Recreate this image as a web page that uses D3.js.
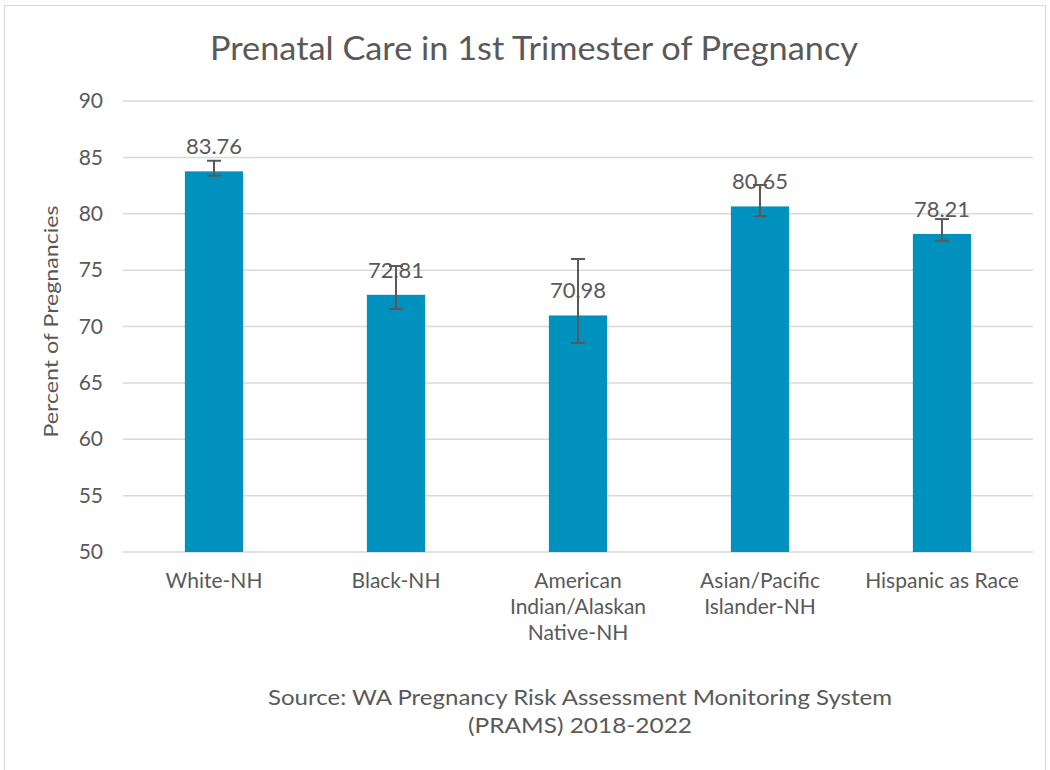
<!DOCTYPE html>
<html>
<head>
<meta charset="utf-8">
<script src="https://cdn.jsdelivr.net/npm/d3@7"></script>
<style>
  body { margin: 0; background: #fff; }
  svg text { font-family: "Lato", sans-serif; fill: #595959; }
</style>
</head>
<body>
<svg id="chart" width="1050" height="770"></svg>
<script>
// Prenatal care in 1st trimester, by race/ethnicity (WA PRAMS 2018-2022)
const categories = [
  ["White-NH"],
  ["Black-NH"],
  ["American", "Indian/Alaskan", "Native-NH"],
  ["Asian/Pacific", "Islander-NH"],
  ["Hispanic as Race"]
];
const values = [83.76, 72.81, 70.98, 80.65, 78.21];
const ciLower = [83.38, 71.55, 68.54, 79.80, 77.61];
const ciUpper = [84.70, 75.37, 75.99, 82.55, 79.53];
const yTicks = [50, 55, 60, 65, 70, 75, 80, 85, 90];

const svg = d3.select("#chart");
const W = 1050, H = 770;
const plot = { left: 123, right: 1033, top: 101, bottom: 552 };

// outer frame (runs past the bottom edge)
svg.append("rect")
  .attr("x", 4.5).attr("y", 5.5)
  .attr("width", W - 9).attr("height", H + 10)
  .attr("fill", "#fff").attr("stroke", "#d9d9d9").attr("stroke-width", 1.2);

const x = d3.scaleBand()
  .domain(d3.range(values.length))
  .range([plot.left, plot.right])
  .paddingInner(0.68).paddingOuter(0.34);

const y = d3.scaleLinear().domain([50, 90]).range([plot.bottom, plot.top]);

// gridlines
svg.append("g").selectAll("line").data(yTicks).join("line")
  .attr("x1", plot.left).attr("x2", plot.right)
  .attr("y1", d => y(d)).attr("y2", d => y(d))
  .attr("stroke", "#d9d9d9").attr("stroke-width", 1.5);

// y tick labels
const yAxis = svg.append("g")
  .attr("transform", `translate(${plot.left},0)`)
  .call(d3.axisLeft(y).tickValues(yTicks).tickSize(0).tickPadding(20));
yAxis.select(".domain").remove();
yAxis.selectAll("text")
  .style("font-family", "Lato, sans-serif")
  .style("font-size", "21px")
  .attr("fill", "#595959");

// y axis title
svg.append("text")
  .attr("transform", `translate(58,${(plot.top + plot.bottom) / 2 - 5}) rotate(-90)`)
  .attr("text-anchor", "middle")
  .style("font-size", "20px")
  .attr("textLength", 232).attr("lengthAdjust", "spacingAndGlyphs")
  .text("Percent of Pregnancies");

// bars
svg.append("g").selectAll("rect").data(values).join("rect")
  .attr("x", (d, i) => x(i))
  .attr("y", d => y(d))
  .attr("width", x.bandwidth())
  .attr("height", d => y(50) - y(d))
  .attr("fill", "#0091be");

// value labels
svg.append("g").selectAll("text").data(values).join("text")
  .attr("x", (d, i) => x(i) + x.bandwidth() / 2)
  .attr("y", d => y(d) - 17)
  .attr("text-anchor", "middle")
  .style("font-size", "22px")
  .attr("fill", "#404040")
  .text(d => d.toFixed(2));

// error bars
const eb = svg.append("g").attr("stroke", "#595959").attr("stroke-width", 2);
values.forEach((v, i) => {
  const cx = x(i) + x.bandwidth() / 2;
  eb.append("line").attr("x1", cx).attr("x2", cx).attr("y1", y(ciLower[i])).attr("y2", y(ciUpper[i]));
  [ciLower[i], ciUpper[i]].forEach(b => {
    eb.append("line").attr("x1", cx - 7).attr("x2", cx + 7).attr("y1", y(b)).attr("y2", y(b));
  });
});

// category labels
const cat = svg.append("g");
categories.forEach((lines, i) => {
  const t = cat.append("text")
    .attr("x", x(i) + x.bandwidth() / 2)
    .attr("y", 588)
    .attr("text-anchor", "middle")
    .style("font-size", "21px");
  lines.forEach((ln, k) => {
    t.append("tspan").attr("x", x(i) + x.bandwidth() / 2).attr("dy", k === 0 ? 0 : 26).text(ln);
  });
});

// title
svg.append("text")
  .attr("x", 534).attr("y", 60)
  .attr("text-anchor", "middle")
  .style("font-size", "33px")
  .attr("textLength", 648).attr("lengthAdjust", "spacingAndGlyphs")
  .text("Prenatal Care in 1st Trimester of Pregnancy");

// source note
const srcLines = [
  { text: "Source:  WA Pregnancy Risk Assessment Monitoring System", y: 705, len: 624 },
  { text: "(PRAMS) 2018-2022", y: 733, len: 224 }
];
svg.append("g").selectAll("text").data(srcLines).join("text")
  .attr("x", 580).attr("y", d => d.y)
  .attr("text-anchor", "middle")
  .style("font-size", "22px")
  .attr("textLength", d => d.len).attr("lengthAdjust", "spacingAndGlyphs")
  .text(d => d.text);
</script>
</body>
</html>
